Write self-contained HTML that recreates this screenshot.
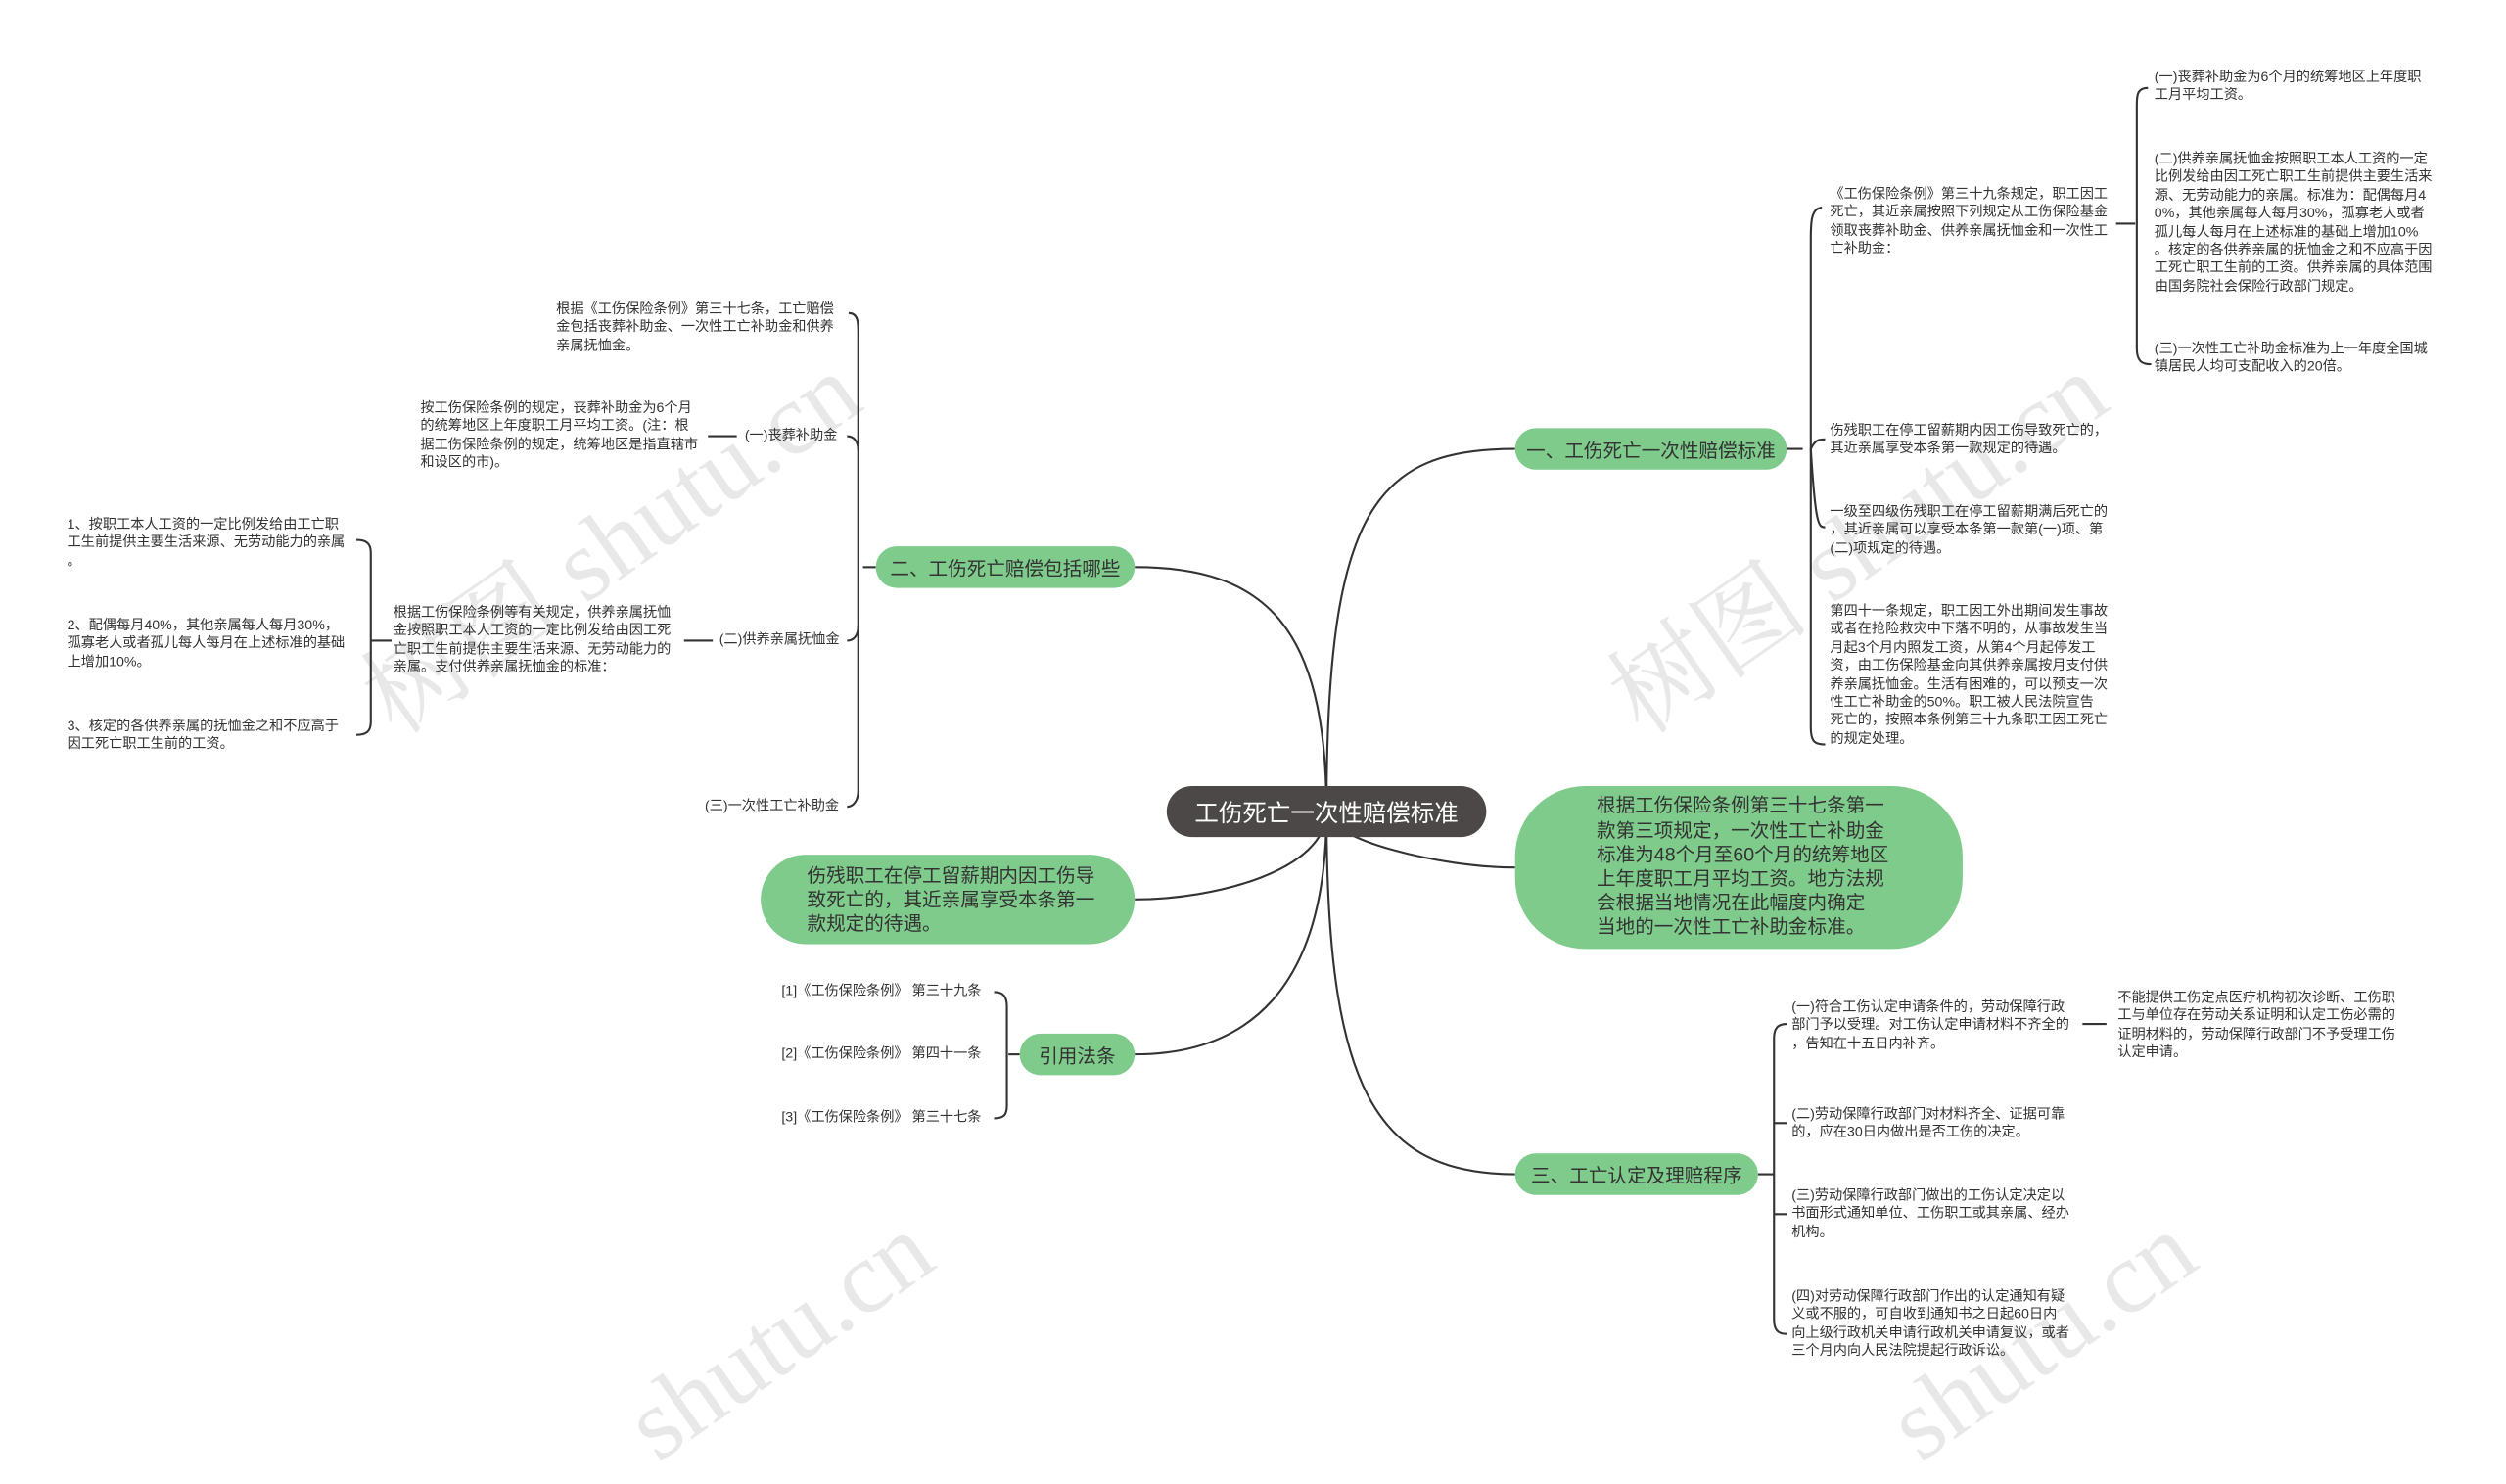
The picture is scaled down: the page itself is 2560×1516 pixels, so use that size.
<!DOCTYPE html>
<html><head><meta charset="utf-8"><style>
html,body{margin:0;padding:0;background:#fff;overflow:hidden}
#w{position:absolute;left:0;top:0;width:1568px;height:894px;transform:scale(1.63265,1.632);transform-origin:0 0;font-family:"Liberation Sans","Noto Sans CJK SC",sans-serif;color:#333}
.t{position:absolute;font-size:8.7px;line-height:11.4px;white-space:nowrap}
.r{text-align:right}
.g{position:absolute;background:#7ecb8b;color:#333;font-size:12px;display:flex;align-items:center;justify-content:center;border-radius:14px}
.wm{position:absolute;font-size:64px;color:rgba(0,0,0,0.09);transform:rotate(-35deg);white-space:nowrap;font-family:"Liberation Serif","Noto Serif CJK SC",serif}
</style></head><body><div id="w">
<div class="wm" style="left:200px;top:290px">树图 shutu.cn</div>
<div class="wm" style="left:980px;top:290px">树图 shutu.cn</div>
<div class="wm" style="left:380px;top:800px">shutu.cn</div>
<div class="wm" style="left:1170px;top:800px">shutu.cn</div>
<svg width="1568" height="894" style="position:absolute;left:0;top:0" fill="none" stroke="#333" stroke-width="1.3">
<path d="M830,508 C830,320 860,281 948,281"/>
<path d="M830,508 C830,390 790,355 710,355"/>
<path d="M830,508 C830,545 760,563 710,563"/>
<path d="M830,508 C830,525 900,543 948,543"/>
<path d="M830,508 C830,620 780,660 710,660"/>
<path d="M830,508 C830,680 860,735 948,735"/>
<path d="M1118,281 L1128,281"/>
<path d="M1140,130 C1133,130 1133,140 1133,150 L1133,455 C1133,465 1136,466 1142,466"/>
<path d="M1133,281 C1136,275 1138,275 1142,275"/>
<path d="M1133,281 C1136,330 1138,330 1142,330"/>
<path d="M1324,140 L1336,140"/>
<path d="M1344,55 C1337,55 1337,60 1337,66 L1337,218 C1337,226 1340,228 1346,228"/>
<path d="M548,355 L540,355"/>
<path d="M531,196 C537,196 537,202 537,208 L537,495 C537,501 534,505 530,505"/>
<path d="M537,355 L537,355"/>
<path d="M530,273 C534,273 537,276 537,282"/>
<path d="M530,401 C534,401 537,398 537,392"/>
<path d="M443,273 L461,273"/>
<path d="M428,401 L446,401"/>
<path d="M245,401 L232,401"/>
<path d="M223,338 C229,338 232,340 232,346 L232,452 C232,458 229,460 223,460"/>
<path d="M638,660 L631,660"/>
<path d="M622,621 C628,621 630,624 630,630 L630,692 C630,698 628,700 622,700"/>
<path d="M1100,735 L1110,735"/>
<path d="M1118,641 C1112,641 1110,644 1110,650 L1110,826 C1110,832 1112,835 1118,835"/>
<path d="M1110,703 C1112,703 1115,703 1118,703"/>
<path d="M1110,760 C1112,760 1115,760 1118,760"/>
<path d="M1303,641 L1318,641"/>
</svg>
<div class="g" style="left:730px;top:492px;width:200px;height:32px;background:#4b4847;color:#fff;font-size:15px;border-radius:16px">工伤死亡一次性赔偿标准</div>
<div class="g" style="left:948px;top:268px;width:170px;height:26px">一、工伤死亡一次性赔偿标准</div>
<div class="g" style="left:548px;top:342px;width:162px;height:26px">二、工伤死亡赔偿包括哪些</div>
<div class="g" style="left:638px;top:647px;width:72px;height:26px">引用法条</div>
<div class="g" style="left:948px;top:722px;width:152px;height:26px">三、工亡认定及理赔程序</div>
<div class="g" style="left:476px;top:535px;width:234px;height:56px;border-radius:28px;justify-content:flex-start;padding-left:29px;box-sizing:border-box;line-height:15px">伤残职工在停工留薪期内因工伤导<br>致死亡的，其近亲属享受本条第一<br>款规定的待遇。</div>
<div class="g" style="left:948px;top:492px;width:280px;height:102px;border-radius:44px;justify-content:flex-start;padding-left:51px;box-sizing:border-box;line-height:15.2px">根据工伤保险条例第三十七条第一<br>款第三项规定，一次性工亡补助金<br>标准为48个月至60个月的统筹地区<br>上年度职工月平均工资。地方法规<br>会根据当地情况在此幅度内确定<br>当地的一次性工亡补助金标准。</div>
<div class="t" style="left:1145px;top:116px">《工伤保险条例》第三十九条规定，职工因工<br>死亡，其近亲属按照下列规定从工伤保险基金<br>领取丧葬补助金、供养亲属抚恤金和一次性工<br>亡补助金：</div>
<div class="t" style="left:1348px;top:43px">(一)丧葬补助金为6个月的统筹地区上年度职<br>工月平均工资。</div>
<div class="t" style="left:1348px;top:94px">(二)供养亲属抚恤金按照职工本人工资的一定<br>比例发给由因工死亡职工生前提供主要生活来<br>源、无劳动能力的亲属。标准为：配偶每月4<br>0%，其他亲属每人每月30%，孤寡老人或者<br>孤儿每人每月在上述标准的基础上增加10%<br>。核定的各供养亲属的抚恤金之和不应高于因<br>工死亡职工生前的工资。供养亲属的具体范围<br>由国务院社会保险行政部门规定。</div>
<div class="t" style="left:1348px;top:213px">(三)一次性工亡补助金标准为上一年度全国城<br>镇居民人均可支配收入的20倍。</div>
<div class="t" style="left:1145px;top:264px">伤残职工在停工留薪期内因工伤导致死亡的，<br>其近亲属享受本条第一款规定的待遇。</div>
<div class="t" style="left:1145px;top:315px">一级至四级伤残职工在停工留薪期满后死亡的<br>，其近亲属可以享受本条第一款第(一)项、第<br>(二)项规定的待遇。</div>
<div class="t" style="left:1145px;top:377px">第四十一条规定，职工因工外出期间发生事故<br>或者在抢险救灾中下落不明的，从事故发生当<br>月起3个月内照发工资，从第4个月起停发工<br>资，由工伤保险基金向其供养亲属按月支付供<br>养亲属抚恤金。生活有困难的，可以预支一次<br>性工亡补助金的50%。职工被人民法院宣告<br>死亡的，按照本条例第三十九条职工因工死亡<br>的规定处理。</div>
<div class="t" style="left:348px;top:188px">根据《工伤保险条例》第三十七条，工亡赔偿<br>金包括丧葬补助金、一次性工亡补助金和供养<br>亲属抚恤金。</div>
<div class="t" style="left:466px;top:267px">(一)丧葬补助金</div>
<div class="t" style="left:263px;top:250px">按工伤保险条例的规定，丧葬补助金为6个月<br>的统筹地区上年度职工月平均工资。(注：根<br>据工伤保险条例的规定，统筹地区是指直辖市<br>和设区的市)。</div>
<div class="t" style="left:450px;top:395px">(二)供养亲属抚恤金</div>
<div class="t" style="left:246px;top:378px">根据工伤保险条例等有关规定，供养亲属抚恤<br>金按照职工本人工资的一定比例发给由因工死<br>亡职工生前提供主要生活来源、无劳动能力的<br>亲属。支付供养亲属抚恤金的标准：</div>
<div class="t" style="left:42px;top:323px">1、按职工本人工资的一定比例发给由工亡职<br>工生前提供主要生活来源、无劳动能力的亲属<br>。</div>
<div class="t" style="left:42px;top:386px">2、配偶每月40%，其他亲属每人每月30%，<br>孤寡老人或者孤儿每人每月在上述标准的基础<br>上增加10%。</div>
<div class="t" style="left:42px;top:449px">3、核定的各供养亲属的抚恤金之和不应高于<br>因工死亡职工生前的工资。</div>
<div class="t" style="left:441px;top:499px">(三)一次性工亡补助金</div>
<div class="t" style="left:489px;top:615px">[1]《工伤保险条例》 第三十九条</div>
<div class="t" style="left:489px;top:654px">[2]《工伤保险条例》 第四十一条</div>
<div class="t" style="left:489px;top:694px">[3]《工伤保险条例》 第三十七条</div>
<div class="t" style="left:1121px;top:625px">(一)符合工伤认定申请条件的，劳动保障行政<br>部门予以受理。对工伤认定申请材料不齐全的<br>，告知在十五日内补齐。</div>
<div class="t" style="left:1325px;top:619px">不能提供工伤定点医疗机构初次诊断、工伤职<br>工与单位存在劳动关系证明和认定工伤必需的<br>证明材料的，劳动保障行政部门不予受理工伤<br>认定申请。</div>
<div class="t" style="left:1121px;top:692px">(二)劳动保障行政部门对材料齐全、证据可靠<br>的，应在30日内做出是否工伤的决定。</div>
<div class="t" style="left:1121px;top:743px">(三)劳动保障行政部门做出的工伤认定决定以<br>书面形式通知单位、工伤职工或其亲属、经办<br>机构。</div>
<div class="t" style="left:1121px;top:806px">(四)对劳动保障行政部门作出的认定通知有疑<br>义或不服的，可自收到通知书之日起60日内<br>向上级行政机关申请行政机关申请复议，或者<br>三个月内向人民法院提起行政诉讼。</div>
</div></body></html>
